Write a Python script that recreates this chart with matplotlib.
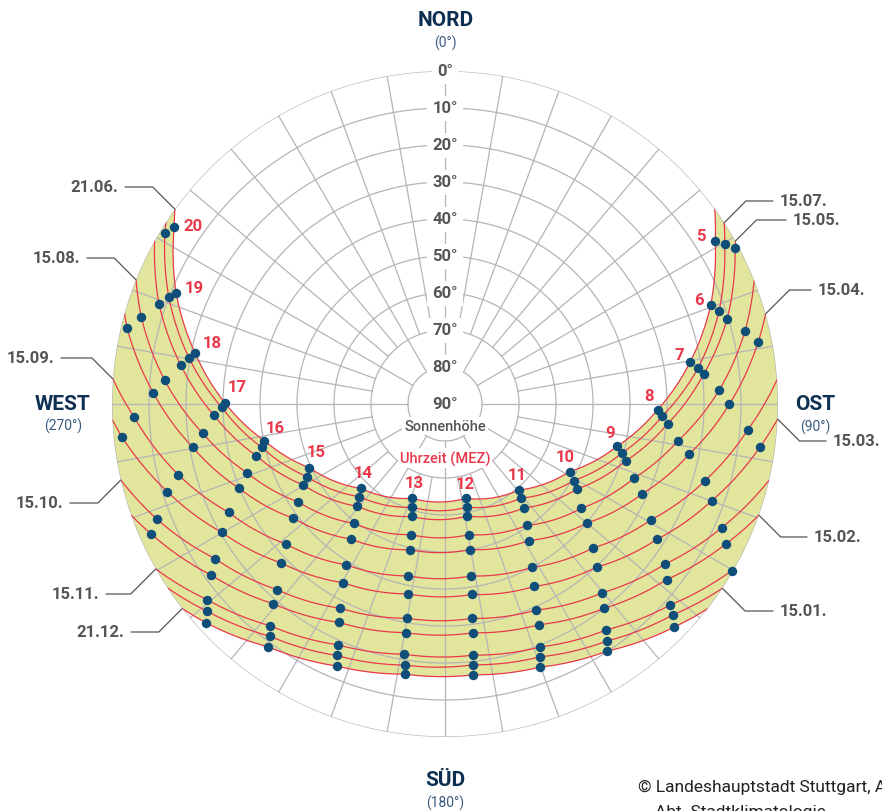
import numpy as np
import matplotlib
matplotlib.use("Agg")
import matplotlib.pyplot as plt
from matplotlib.path import Path
from matplotlib.patches import PathPatch

# Sonnenstandsdiagramm Stuttgart
# Azimut (Grad, N=0, im Uhrzeigersinn) und Sonnenhoehe (Grad), volle Stunden MEZ

dates = ["21.06.", "15.07.", "15.05.", "15.08.", "15.04.", "15.09.",
         "15.03.", "15.10.", "15.02.", "15.11.", "15.01.", "21.12."]
first_hour = [5, 5, 5, 6, 6, 7, 7, 8, 8, 8, 9, 9]

az_2106 = [58.9, 69.5, 80.3, 91.5, 103.8, 118.5, 139.2, 167.6, 199.3, 224.9, 244.8, 258.5, 270.3, 281.5, 292.4, 303.1]
alt_2106 = [4.7, 13.3, 22.8, 32.5, 42.1, 51.7, 59.3, 63.9, 63.0, 57.8, 49.5, 40.2, 30.5, 21.1, 11.4, 2.6]
az_1507 = [60.2, 71.3, 82.0, 93.2, 105.5, 120.7, 141.1, 168.1, 197.9, 222.8, 242.3, 256.7, 269.2, 280.1, 291.1, 301.4]
alt_1507 = [2.9, 11.8, 21.0, 31.2, 40.4, 49.5, 57.3, 61.5, 60.7, 55.9, 47.8, 39.1, 29.6, 19.8, 10.0, 1.3]
az_1505 = [61.8, 73.2, 83.4, 95.1, 107.5, 122.9, 142.8, 168.8, 196.5, 220.6, 240.2, 254.7, 267.2, 278.4, 289.3]
alt_1505 = [1.0, 10.3, 19.6, 29.6, 38.8, 47.6, 54.7, 59.1, 58.3, 53.6, 45.9, 37.1, 27.5, 17.8, 8.1]
az_1508 = [76.4, 87.1, 98.9, 111.4, 127.4, 146.0, 169.6, 194.7, 217.4, 236.3, 250.8, 263.2, 274.8, 286.0]
alt_1508 = [6.6, 15.8, 26.2, 35.1, 43.6, 50.4, 54.1, 53.5, 49.4, 42.3, 33.4, 24.0, 14.0, 4.6]
az_1504 = [78.8, 90.1, 101.6, 114.6, 129.9, 148.5, 170.3, 193.5, 214.9, 233.0, 247.7, 260.3, 272.2, 283.5]
alt_1504 = [3.7, 13.2, 22.6, 31.5, 39.9, 46.7, 50.1, 49.5, 45.5, 38.7, 29.9, 20.8, 11.1, 1.6]
az_1509 = [94.9, 106.4, 119.3, 134.2, 152.0, 171.3, 192.0, 211.6, 228.7, 243.4, 255.2, 267.6]
alt_1509 = [7.9, 16.7, 26.1, 34.2, 40.0, 43.0, 42.5, 39.0, 32.7, 24.6, 15.4, 5.9]
az_1503 = [97.8, 109.9, 122.5, 137.1, 153.9, 171.9, 191.1, 209.7, 225.9, 240.1, 252.5, 264.1]
alt_1503 = [4.1, 13.3, 22.0, 29.8, 35.1, 38.0, 37.7, 34.4, 28.3, 20.4, 11.3, 2.3]
az_1510 = [114.1, 126.1, 140.2, 156.1, 172.8, 190.0, 207.1, 222.2, 236.1, 248.3]
alt_1510 = [8.1, 16.5, 23.6, 29.1, 31.6, 31.2, 28.0, 22.3, 15.1, 6.1]
az_1502 = [116.5, 128.4, 142.1, 157.0, 173.0, 189.8, 205.9, 220.7, 233.8, 246.1]
alt_1502 = [5.2, 13.6, 20.0, 25.2, 27.7, 27.3, 24.4, 18.8, 11.7, 3.2]
az_1511 = [120.2, 131.7, 144.5, 158.7, 173.6, 189.2, 203.9, 218.2, 230.5]
alt_1511 = [0.4, 8.4, 15.0, 19.5, 21.7, 21.5, 18.8, 13.7, 6.8]
az_1501 = [132.8, 145.6, 159.4, 173.8, 188.8, 203.3, 217.0, 229.0]
alt_1501 = [6.1, 12.4, 17.0, 19.1, 18.6, 16.0, 11.4, 4.7]
az_2112 = [134.3, 146.7, 160.2, 174.0, 188.4, 202.4, 216.1, 227.6]
alt_2112 = [3.6, 10.1, 14.4, 16.4, 16.2, 13.4, 8.8, 2.4]

# Auf- und Untergangsazimut (Hoehe 0)
rise_az = [54.1, 57.0, 60.7, 68.2, 74.3, 85.8, 92.6, 103.2, 109.5, 119.7, 123.6, 127.9]
set_az = [305.8, 303.1, 299.3, 291.9, 285.8, 274.3, 267.3, 256.8, 250.5, 240.3, 236.5, 232.1]

az_list = [az_2106, az_1507, az_1505, az_1508, az_1504, az_1509,
           az_1503, az_1510, az_1502, az_1511, az_1501, az_2112]
alt_list = [alt_2106, alt_1507, alt_1505, alt_1508, alt_1504, alt_1509,
            alt_1503, alt_1510, alt_1502, alt_1511, alt_1501, alt_2112]

left_dates = ["21.06.", "15.08.", "15.09.", "15.10.", "15.11.", "21.12."]
right_dates = ["15.07.", "15.05.", "15.04.", "15.03.", "15.02.", "15.01."]

# Layout (Pixel)
W, H = 882, 812
left_pos = [(118, 188), (80, 259), (54, 359), (63, 504), (99, 595), (124, 633)]
left_ang = [135, 135, 135, 45, 45, 45]
right_pos = [(780, 202), (793, 221), (818, 291), (833, 442), (814, 538), (780, 612)]
right_ang = [45, 45, 45, 135, 135, 135]
hour_dx = [-14, -12, -11, -9, -7, -4, -2, 0, 2, 2, 7, 11, 12, 17, 18, 19]
hour_dy = [5, 5, 8, 14, 14, 15, 15, 15, 16, 16, 16, 13, 16, 11, 6, 2]

grid_c = "#b5b5b5"
red = "#e8384a"
dot_c = "#104e7a"
yellow = "#e2e69c"
navy = "#0d2f52"
gray_txt = "#555555"

plt.rcParams["font.family"] = ["Roboto", "DejaVu Sans"]

fig = plt.figure(figsize=(W / 100, H / 100), dpi=100)
fig.patch.set_facecolor("white")
ax = fig.add_axes([112 / W, 1 - 738 / H, 666 / W, 666 / H], projection="polar")
ax.set_theta_zero_location("N")
ax.set_theta_direction(-1)
ax.set_ylim(0, 90)
ax.set_axis_off()


def curve(i):
    az = [rise_az[i]] + az_list[i] + [set_az[i]]
    alt = [0] + alt_list[i] + [0]
    return np.deg2rad(az), 90 - np.array(alt, dtype=float)


# gelbe Flaeche zwischen 21.06. und 21.12.
t1, r1 = curve(0)
t2, r2 = curve(11)
th = np.concatenate([t1, t2[::-1], t1[:1]])
rr = np.concatenate([r1, r2[::-1], r1[:1]])
fill = PathPatch(Path(np.column_stack([th, rr]), _interpolation_steps=40),
                 fc=yellow, ec="none", transform=ax.transData, zorder=1)
ax.add_patch(fill)

# Gitter
ring = np.linspace(0, 2 * np.pi, 721)
for a in range(0, 90, 10):
    ax.plot(ring, np.full_like(ring, 90 - a), color=grid_c, lw=0.9, zorder=2)
for a in range(0, 360, 10):
    r0 = 10 if a % 30 == 0 else 20
    ax.plot([np.deg2rad(a)] * 2, [r0, 90], color=grid_c, lw=0.9, zorder=2)

# Sonnenbahnen
for i in range(len(dates)):
    t, r = curve(i)
    ln = PathPatch(Path(np.column_stack([t, r]), _interpolation_steps=40),
                   fill=False, ec=red, lw=0.9, transform=ax.transData, zorder=3)
    ax.add_patch(ln)
    ax.plot(np.deg2rad(az_list[i]), 90 - np.array(alt_list[i]), "o", ms=6.8,
            color=dot_c, mec="none", zorder=5, clip_on=False)

# Stundenbeschriftung
for k, hr in enumerate(range(5, 21)):
    ax.annotate(str(hr), xy=(np.deg2rad(az_2106[k]), 90 - alt_2106[k]),
                xytext=(hour_dx[k], hour_dy[k]), textcoords="offset pixels",
                ha="center", va="center", fontsize=12, fontweight="bold",
                color=red, zorder=6, annotation_clip=False)

# Hoehenbeschriftung
wbox = dict(boxstyle="square,pad=0.3", fc="white", ec="none")
for a in range(0, 100, 10):
    ax.text(0, 90 - a, f"{a}°", ha="center", va="center", fontsize=12,
            fontweight="bold", color=gray_txt, bbox=wbox, zorder=4)
ax.text(0, 0, "90°", ha="center", va="center", fontsize=12,
        fontweight="bold", color=gray_txt, bbox=wbox, zorder=4)


def ftext(x, y, s, **kw):
    return fig.text(x / W, 1 - y / H, s, **kw)


ftext(445, 427, "Sonnenhöhe", ha="center", va="center", fontsize=10.5,
      fontweight="medium", color=gray_txt, zorder=6,
      bbox=dict(boxstyle="square,pad=0.15", fc="white", ec="none"))
ftext(445, 459, "Uhrzeit (MEZ)", ha="center", va="center", fontsize=10.5,
      fontweight="medium", color=red, zorder=6,
      bbox=dict(boxstyle="square,pad=0.15", fc="white", ec="none"))

# Himmelsrichtungen
ftext(446, 21, "NORD", ha="center", va="center", fontsize=15, fontweight="bold", color=navy)
ftext(445, 43, "(0°)", ha="center", va="center", fontsize=10, color="#3a5a80")
ftext(63, 405, "WEST", ha="center", va="center", fontsize=15, fontweight="bold", color=navy)
ftext(63, 426, "(270°)", ha="center", va="center", fontsize=10, color="#3a5a80")
ftext(815, 405, "OST", ha="center", va="center", fontsize=15, fontweight="bold", color=navy)
ftext(815, 427, "(90°)", ha="center", va="center", fontsize=10, color="#3a5a80")
ftext(445, 781, "SÜD", ha="center", va="center", fontsize=15, fontweight="bold", color=navy)
ftext(445, 803, "(180°)", ha="center", va="center", fontsize=10, color="#3a5a80")

# Datumsbeschriftung mit Fuehrungslinien
for lab, (x, y), ang in zip(left_dates, left_pos, left_ang):
    i = dates.index(lab)
    ax.annotate(lab, xy=(np.deg2rad(set_az[i]), 90), xytext=(x, H - y),
                textcoords="figure pixels", ha="right", va="center",
                fontsize=12, fontweight="bold", color=gray_txt, annotation_clip=False,
                arrowprops=dict(arrowstyle="-", color="#555555", lw=0.9, shrinkA=3, shrinkB=0,
                                connectionstyle=f"angle,angleA=0,angleB={ang},rad=0"))
for lab, (x, y), ang in zip(right_dates, right_pos, right_ang):
    i = dates.index(lab)
    ax.annotate(lab, xy=(np.deg2rad(rise_az[i]), 90), xytext=(x, H - y),
                textcoords="figure pixels", ha="left", va="center",
                fontsize=12, fontweight="bold", color=gray_txt, annotation_clip=False,
                arrowprops=dict(arrowstyle="-", color="#555555", lw=0.9, shrinkA=3, shrinkB=0,
                                connectionstyle=f"angle,angleA=0,angleB={ang},rad=0"))

# Quelle (im Original am Bildrand abgeschnitten)
ftext(638, 787, "© Landeshauptstadt Stuttgart, Amt für Umweltschutz,", ha="left",
      va="center", fontsize=12.5, color="#222222")
ftext(655, 805, "Abt. Stadtklimatologie", ha="left", va="top", fontsize=12.5, color="#222222")

fig.savefig("out.png", dpi=100)
